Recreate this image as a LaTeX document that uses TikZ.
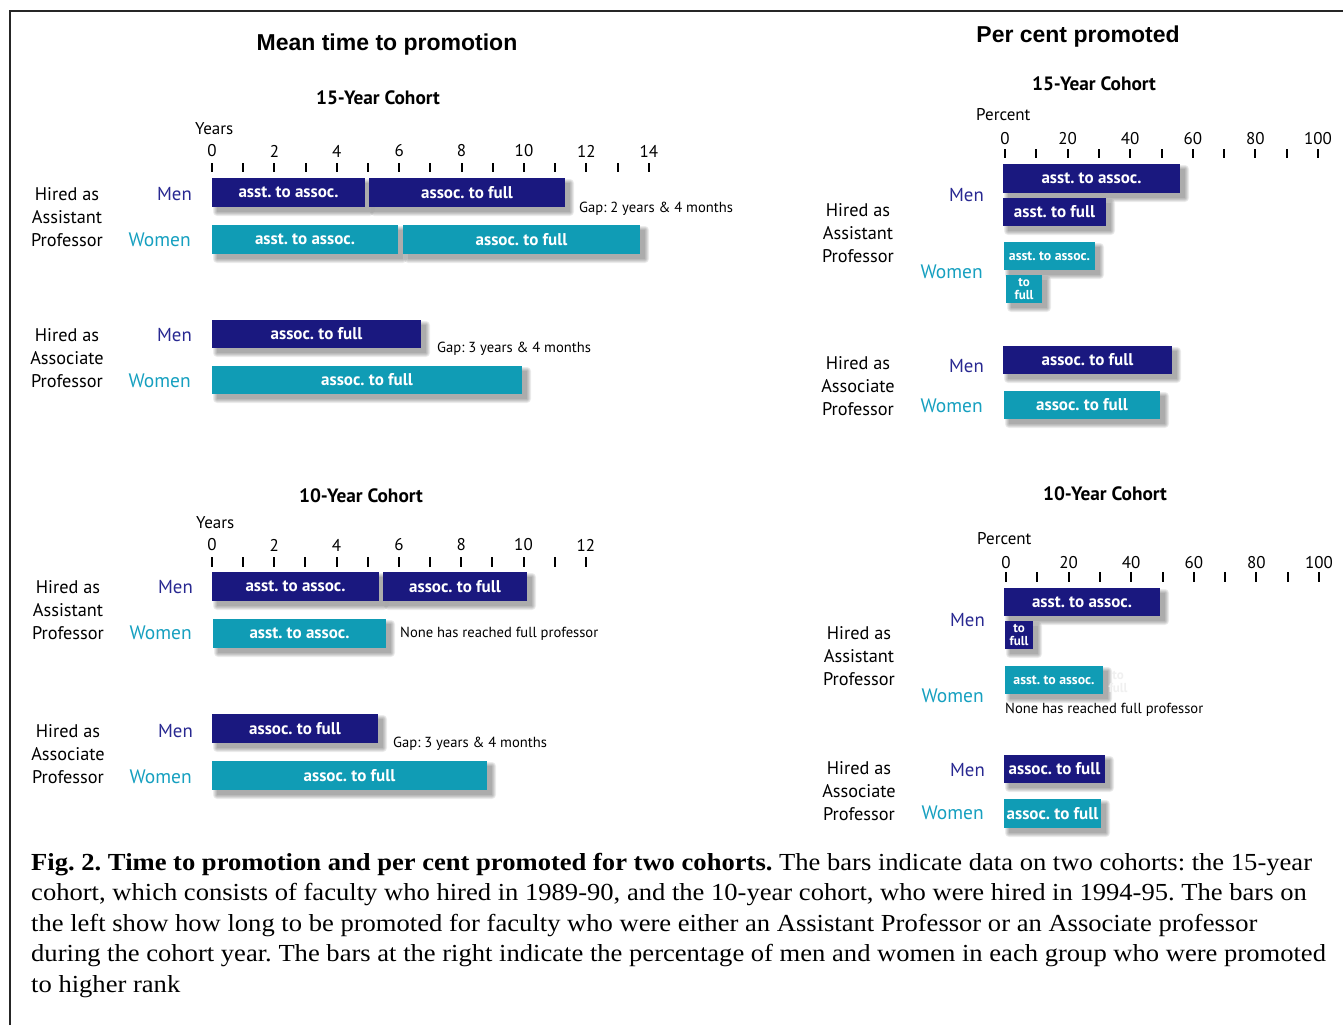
\documentclass[tikz,border=0pt]{standalone}
\usepackage{fontspec}
\setmainfont{Liberation Serif}[FakeStretch=1.085]
\newfontfamily\myr{PT Sans}
\newfontfamily\hel{Liberation Sans}
\definecolor{navy}{RGB}{26,24,127}
\definecolor{tealbar}{RGB}{16,156,181}
\definecolor{menc}{RGB}{40,40,145}
\definecolor{womc}{RGB}{22,160,192}
\newcommand\fsz[2]{\fontsize{#1}{#2}\selectfont}
\newcommand\mkbar[7]{%
  \foreach \k in {0,...,4}{\fill[black,opacity=0.075,rounded corners=\k pt] ({#3+5-\k},{#4+5-\k}) rectangle ({#5+5+\k},{#6+5+\k});}
  \node[#1,minimum width={(#5-#3)*1pt},minimum height={(#6-#4)*1pt}] (#2) at ({(#3+#5)/2},{(#4+#6)/2}) {#7};}
\usetikzlibrary{positioning}
\frenchspacing
\begin{document}
\begin{tikzpicture}[x=1pt,y=-1pt,
  lbl/.style={font=\myr\fsz{18.3}{23}, align=center, inner sep=0},
  menl/.style={font=\myr\fsz{18.8}{23}, text=menc, anchor=east, inner sep=0},
  woml/.style={font=\myr\fsz{19.5}{23}, text=womc, anchor=east, inner sep=0},
  axl/.style={font=\myr\fsz{17}{20}, inner sep=0},
  note/.style={font=\myr\fsz{14.6}{17}, inner sep=0, anchor=west},
  ttl/.style={font=\hel\bfseries\fsz{23}{26}, inner sep=0},
  coh/.style={font=\myr\bfseries\fsz{19.3}{22}, inner sep=0},
  bar/.style={inner sep=0, text=white, font=\myr\bfseries\fsz{17}{18}},
  sbar/.style={inner sep=0, text=white, font=\myr\bfseries\fsz{13}{13}, align=center},
  menbar/.style={bar, fill=navy},
  wombar/.style={bar, fill=tealbar},
  tickline/.style={line width=2pt},
  capl/.style={font=\fsz{24.5}{30}, anchor=base west, inner sep=0}]
\useasboundingbox (0,0) rectangle (1343,1025);
\fill[white] (0,0) rectangle (1343,1025);
\draw[line width=2.5pt,black!85] (10,1025) -- (10,11) -- (1343,11);

% ---------- titles
\node[ttl] (tL) at (387,45) {Mean time to promotion};
\node[ttl] (tR) at (1078,37) {Per cent promoted};

% ================= LEFT 15-year
\node[coh] (c15L) at (378,98) {15-Year Cohort};
\node[axl,anchor=west] (y15) at (195,129) {Years};
\foreach \i in {0,...,14} \draw[tickline] ({212+31.2*\i},163) -- ({212+31.2*\i},172);
\foreach \i in {0,2,...,14} \node[axl] (a15l\i) at ({212+31.2*\i},151) {\i};

\node[lbl] (h15a) at (67,217) {Hired as\\Assistant\\Professor};
\node[menl] (m15a) at (192,194) {Men};
\node[woml] (w15a) at (191,240) {Women};
\mkbar{menbar}{b1}{212}{178}{365}{207}{asst. to assoc.}
\mkbar{menbar}{b2}{369}{178}{565}{207}{assoc. to full}
\mkbar{wombar}{b3}{212}{225}{398}{254}{asst. to assoc.}
\mkbar{wombar}{b4}{403}{225}{640}{254}{assoc. to full}
\node[note] (g1) at (579,209) {Gap: 2 years \& 4 months};

\node[lbl] (h15b) at (67,358) {Hired as\\Associate\\Professor};
\node[menl] (m15b) at (192,335) {Men};
\node[woml] (w15b) at (191,381) {Women};
\mkbar{menbar}{b5}{212}{320}{421}{348}{assoc. to full}
\mkbar{wombar}{b6}{212}{366}{522}{394}{assoc. to full}
\node[note] (g2) at (437,349) {Gap: 3 years \& 4 months};

% ================= LEFT 10-year
\node[coh] (c10L) at (361,496) {10-Year Cohort};
\node[axl,anchor=west] (y10) at (196,523) {Years};
\foreach \i in {0,...,12} \draw[tickline] ({212+31.15*\i},557) -- ({212+31.15*\i},567);
\foreach \i in {0,2,...,12} \node[axl] (a10l\i) at ({212+31.15*\i},545) {\i};

\node[lbl] (h10a) at (68,610) {Hired as\\Assistant\\Professor};
\node[menl] (m10a) at (193,587) {Men};
\node[woml] (w10a) at (192,633) {Women};
\mkbar{menbar}{b7}{212}{572}{379}{601}{asst. to assoc.}
\mkbar{menbar}{b8}{383}{572}{527}{601}{assoc. to full}
\mkbar{wombar}{b9}{213}{619}{386}{648}{asst. to assoc.}
\node[note] (n1) at (400,634) {None has reached full professor};

\node[lbl] (h10b) at (68,754) {Hired as\\Associate\\Professor};
\node[menl] (m10b) at (193,731) {Men};
\node[woml] (w10b) at (192,777) {Women};
\mkbar{menbar}{b10}{212}{714}{378}{743}{assoc. to full}
\mkbar{wombar}{b11}{212}{761}{487}{790}{assoc. to full}
\node[note] (g3) at (393,744) {Gap: 3 years \& 4 months};

% ================= RIGHT 15-year
\node[coh] (c15R) at (1094,84) {15-Year Cohort};
\node[axl,anchor=west] (p15) at (976,115) {Percent};
\foreach \i in {0,...,10} \draw[tickline] ({1005+31.3*\i},149) -- ({1005+31.3*\i},158);
\foreach \i/\v in {0/0,2/20,4/40,6/60,8/80,10/100} \node[axl] (a15r\i) at ({1005+31.3*\i},139) {\v};

\node[lbl] (h15c) at (858,233) {Hired as\\Assistant\\Professor};
\node[menl] (m15c) at (984,195) {Men};
\node[woml] (w15c) at (983,272) {Women};
\mkbar{menbar}{r1}{1003}{164}{1180}{193}{asst. to assoc.}
\mkbar{menbar}{r2}{1003}{198}{1106}{226}{asst. to full}
\mkbar{wombar,sbar,font=\myr\bfseries\fsz{13.8}{14}}{r3}{1004}{242}{1095}{270}{asst. to assoc.}
\mkbar{wombar,sbar}{r4}{1006}{275}{1042}{303}{to\\full}

\node[lbl] (h15d) at (858,386) {Hired as\\Associate\\Professor};
\node[menl] (m15d) at (984,366) {Men};
\node[woml] (w15d) at (983,406) {Women};
\mkbar{menbar}{r5}{1003}{346}{1172}{374}{assoc. to full}
\mkbar{wombar}{r6}{1004}{391}{1160}{419}{assoc. to full}

% ================= RIGHT 10-year
\node[coh] (c10R) at (1105,494) {10-Year Cohort};
\node[axl,anchor=west] (p10) at (977,539) {Percent};
\foreach \i in {0,...,10} \draw[tickline] ({1006+31.3*\i},572) -- ({1006+31.3*\i},582);
\foreach \i/\v in {0/0,2/20,4/40,6/60,8/80,10/100} \node[axl] (a10r\i) at ({1006+31.3*\i},563) {\v};

\node[lbl] (h10c) at (859,656) {Hired as\\Assistant\\Professor};
\node[menl] (m10c) at (985,620) {Men};
\node[woml] (w10c) at (984,696) {Women};
\mkbar{menbar}{r7}{1004}{588}{1160}{616}{asst. to assoc.}
\mkbar{menbar,sbar}{r8}{1005}{621}{1033}{649}{to\\full}
\mkbar{wombar,sbar,font=\myr\bfseries\fsz{13.8}{14}}{r9}{1005}{666}{1103}{694}{asst. to assoc.}
\node[sbar,text=black!6] (ghost) at (1118,682) {to\\full};
\node[note] (n2) at (1005,710) {None has reached full professor};

\node[lbl] (h10d) at (859,791) {Hired as\\Associate\\Professor};
\node[menl] (m10d) at (985,770) {Men};
\node[woml] (w10d) at (984,813) {Women};
\mkbar{menbar}{r10}{1004}{755}{1105}{783}{assoc. to full}
\mkbar{wombar}{r11}{1004}{799}{1101}{828}{assoc. to full}

% ================= caption
\node[capl] (cap1) at (31,870) {\textbf{Fig. 2. Time to promotion and per cent promoted for two cohorts.} The bars indicate data on two cohorts: the 15-year};
\node[capl] (cap2) at (31,900) {cohort, which consists of faculty who hired in 1989-90, and the 10-year cohort, who were hired in 1994-95. The bars on};
\node[capl] (cap3) at (31,931) {the left show how long to be promoted for faculty who were either an Assistant Professor or an Associate professor};
\node[capl] (cap4) at (31,961) {during the cohort year. The bars at the right indicate the percentage of men and women in each group who were promoted};
\node[capl] (cap5) at (31,992) {to higher rank};
\end{tikzpicture}
\end{document}
